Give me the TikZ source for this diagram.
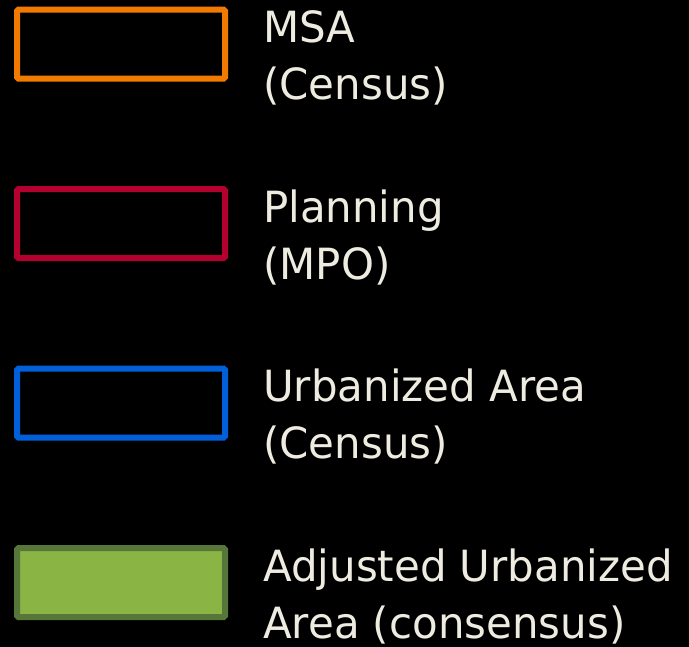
\documentclass[tikz,border=0pt]{standalone}
\usepackage{fontspec}
\setmainfont{DejaVu Sans}[FakeStretch=0.975]
\usepackage{tikz}
\usetikzlibrary{positioning}
\definecolor{msaorange}{HTML}{F27A00}
\definecolor{mpored}{HTML}{B4002F}
\definecolor{uablue}{HTML}{005FD9}
\definecolor{aufill}{HTML}{8AB443}
\definecolor{audraw}{HTML}{57773A}
\definecolor{legendtext}{HTML}{EEECE1}
\tikzset{
  legbox/.style={rectangle, line width=6pt, rounded corners=1.5pt,
    minimum width=208pt, minimum height=69pt, inner sep=0pt},
  legtext/.style={text=legendtext, inner sep=0pt, anchor=base west,
    font=\fontsize{43}{57}\selectfont}
}

\begin{document}
\begin{tikzpicture}[x=1pt,y=1pt]
% black background, fixes the margins
\fill[black] (0,0) rectangle (689,-647);
\useasboundingbox (0,0) rectangle (689,-647);
% legend swatches
\node[legbox, draw=msaorange] (msa) at (121,-44.2) {};
\node[legbox, draw=mpored] (mpo) at (121,-223.7) {};
\node[legbox, draw=uablue] (ua) at (121,-403.2) {};
\node[legbox, draw=audraw, fill=aufill] (aua) at (121,-582.7) {};
% legend labels
\node[legtext, right=35pt of msa.north east, anchor=base west, yshift=-36pt] (msaText)
  {\begin{tabular}[t]{@{}l@{}}MSA\\(Census)\end{tabular}};
\node[legtext, right=35pt of mpo.north east, anchor=base west, yshift=-36pt] (mpoText)
  {\begin{tabular}[t]{@{}l@{}}Planning\\(MPO)\end{tabular}};
\node[legtext, right=35pt of ua.north east, anchor=base west, yshift=-36pt] (uaText)
  {\begin{tabular}[t]{@{}l@{}}Urbanized Area\\(Census)\end{tabular}};
\node[legtext, right=35pt of aua.north east, anchor=base west, yshift=-36pt] (auaText)
  {\begin{tabular}[t]{@{}l@{}}Adjusted Urbanized\\Area (consensus)\end{tabular}};
\end{tikzpicture}
\end{document}
